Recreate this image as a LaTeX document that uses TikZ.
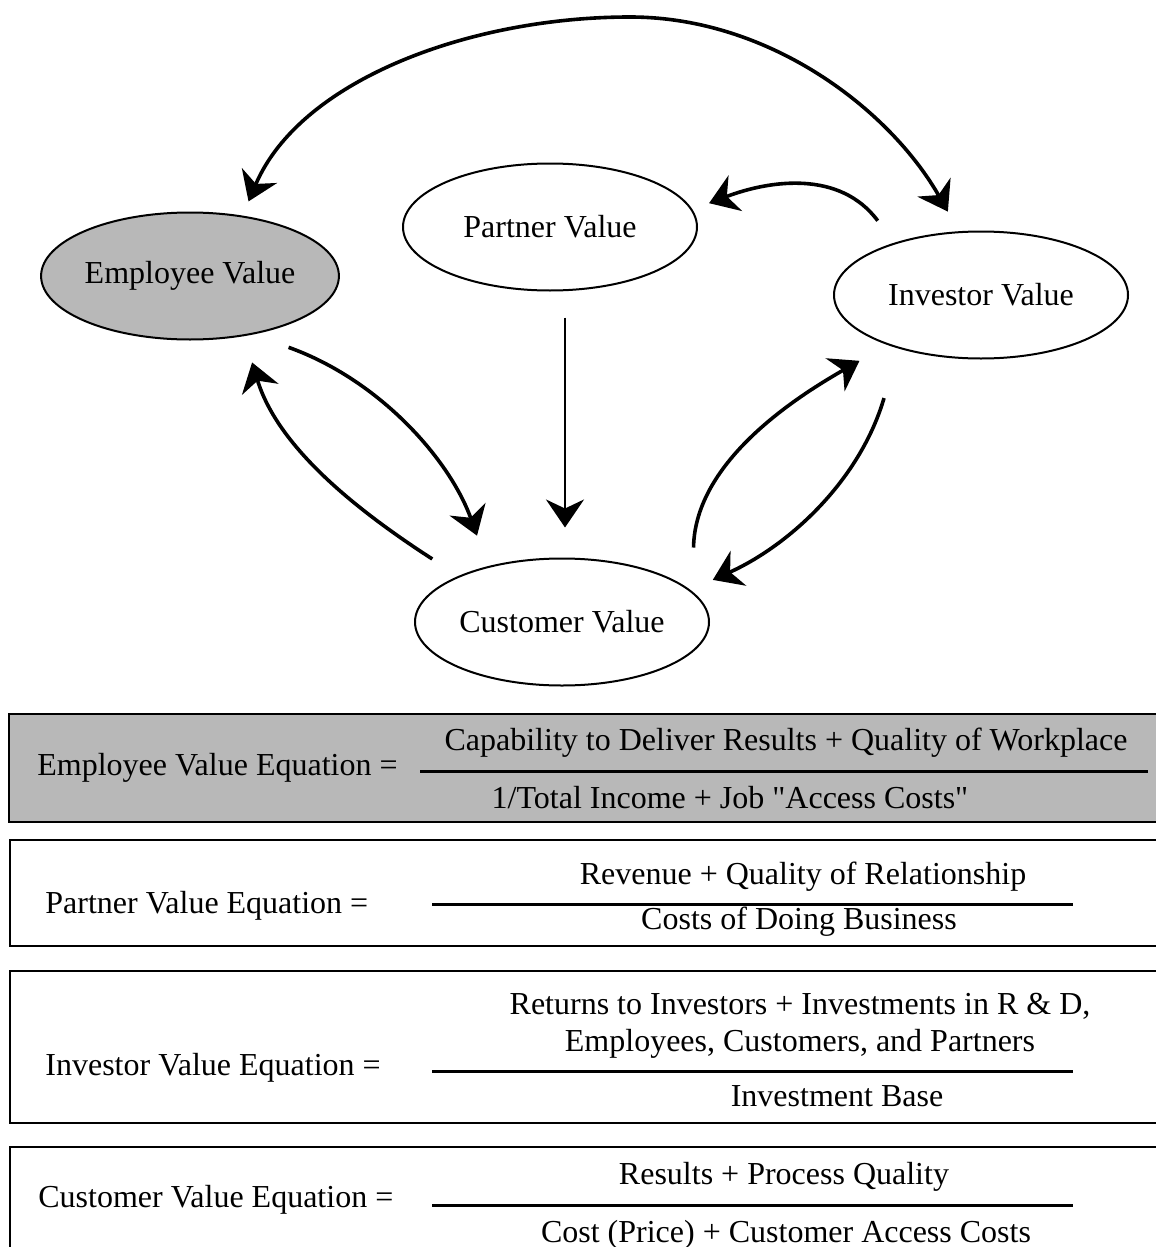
\documentclass[tikz,border=0pt]{standalone}
\usepackage{fontspec}
\setmainfont{Liberation Serif}
\usetikzlibrary{shapes.geometric,arrows.meta}

\begin{document}
\begin{tikzpicture}[x=0.5pt, y=-0.5pt, font=\fontsize{16}{18.5}\selectfont,
    >={Stealth[length=14pt,width=19pt,inset=4.5pt]},
    oval/.style={ellipse, draw, line width=1pt, minimum width=147pt,
      minimum height=63.5pt, inner sep=0pt},
    ok/.style={line width=1.8pt, ->},
    golge/.style={fill=black!28},
    cerceve/.style={draw, line width=1pt},
    kesir/.style={line width=1.5pt},
    etiket/.style={anchor=west, inner sep=0pt}]
  \useasboundingbox (0,0) rectangle (1156,1247);
  \clip (0,0) rectangle (1156,1247);

  % dort deger
  \node[oval, golge] (emp) at (190,276) {Employee Value};
  \node[oval] (par) at (550,227) {Partner Value};
  \node[oval] (inv) at (981,295) {Investor Value};
  \node[oval] (cus) at (562,622) {Customer Value};

  % oklar
  \draw[ok, <->, shorten <=7.7pt, shorten >=11.3pt] (emp.49.7)
    .. controls (300,80) and (470,17) .. (630,17)
    .. controls (770,17) and (890,110) .. (inv.109.4);
  \draw[ok, shorten <=13.75pt, shorten >=8.9pt] (inv.149.7)
    .. controls (840,170) and (770,180) .. (par.7.85);
  \draw[line width=1.3pt, ->, shorten <=13pt, shorten >=15pt]
    ([xshift=7.5pt]par.south) -- ([xshift=1.5pt]cus.north);
  \draw[ok, shorten <=19pt, shorten >=16.2pt] (emp.-43.6)
    .. controls (380,380) and (450,460) .. (cus.143.2);
  \draw[ok, shorten <=15.6pt, shorten >=13.75pt] (cus.156.1)
    .. controls (358,511) and (278,448) .. (emp.-48.6);
  \draw[ok, shorten <=22.15pt, shorten >=16pt] (cus.13)
    .. controls (695,460) and (800,395) .. (inv.208);
  \draw[ok, shorten <=25.8pt, shorten >=12.25pt] (inv.213)
    .. controls (860,480) and (790,545) .. (cus.14.4);

  % esitlikler
  \draw[cerceve, golge] (9,714) rectangle (1170,822);
  \node[etiket] (empeq) at (37,768) {Employee Value Equation =};
  \node (empnum) at (786,743) {Capability to Deliver Results + Quality of Workplace};
  \draw[kesir] (420,771) -- (1148,771);
  \node (empden) at (730,798) {1/Total Income + Job \textquotedbl Access Costs\textquotedbl};

  \draw[cerceve] (10,840) rectangle (1170,946);
  \node[etiket] (pareq) at (45,906) {Partner Value Equation =};
  \node (parnum) at (803,877) {Revenue + Quality of Relationship};
  \draw[kesir] (432,904) -- (1073,904);
  \node (parden) at (799,922) {Costs of Doing Business};

  \draw[cerceve] (10,971) rectangle (1170,1123);
  \node[etiket] (inveq) at (45,1068) {Investor Value Equation =};
  \node[align=center] (invnum) at (800,1026)
    {Returns to Investors + Investments in R \& D,\\
     Employees, Customers, and Partners};
  \draw[kesir] (432,1071) -- (1073,1071);
  \node (invden) at (837,1096) {Investment Base};

  \draw[cerceve] (10,1147) rectangle (1170,1270);
  \node[etiket] (cuseq) at (38,1200) {Customer Value Equation =};
  \node (cusnum) at (784,1177) {Results + Process Quality};
  \draw[kesir] (432,1205) -- (1073,1205);
  \node (cusden) at (786,1235) {Cost (Price) + Customer Access Costs};
\end{tikzpicture}
\end{document}
